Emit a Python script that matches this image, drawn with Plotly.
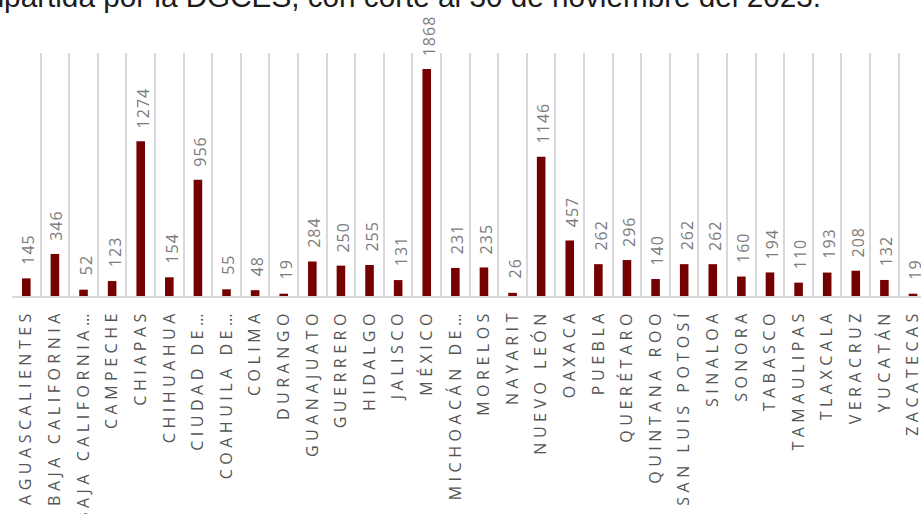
import plotly.graph_objects as go

# Capacitaciones por entidad federativa
estados = [
    "AGUASCALIENTES", "BAJA CALIFORNIA", "BAJA CALIFORNIA…", "CAMPECHE",
    "CHIAPAS", "CHIHUAHUA", "CIUDAD DE…", "COAHUILA DE…", "COLIMA",
    "DURANGO", "GUANAJUATO", "GUERRERO", "HIDALGO", "JALISCO", "MÉXICO",
    "MICHOACÁN DE…", "MORELOS", "NAYARIT", "NUEVO LEÓN", "OAXACA",
    "PUEBLA", "QUERÉTARO", "QUINTANA ROO", "SAN LUIS POTOSÍ", "SINALOA",
    "SONORA", "TABASCO", "TAMAULIPAS", "TLAXCALA", "VERACRUZ", "YUCATÁN",
    "ZACATECAS",
]
totales = [
    145, 346, 52, 123, 1274, 154, 956, 55, 48, 19, 284, 250, 255, 131,
    1868, 231, 235, 26, 1146, 457, 262, 296, 140, 262, 262, 160, 194,
    110, 193, 208, 132, 19,
]
texto_superior = "impartida por la DGCES, con corte al 30 de noviembre del 2023."

W, H = 921, 514
BAR_COLOR = "#740000"
GRID = "#d9d9d9"

fig = go.Figure(
    go.Bar(
        x=estados,
        y=totales,
        width=0.3,
        marker=dict(color=BAR_COLOR, line=dict(width=0)),
        hoverinfo="x+y",
    )
)

# Value labels above each bar, rotated
for est, val in zip(estados, totales):
    fig.add_annotation(
        x=est, y=val, text=str(val), showarrow=False,
        textangle=-90, xanchor="center", yanchor="bottom",
        yshift=13, xshift=2,
        font=dict(family="Open Sans", size=16, color="#7c7c7c"),
    )

fig.update_layout(
    width=W, height=H,
    margin=dict(l=11.7, r=0, t=53, b=218, pad=0),
    paper_bgcolor="white", plot_bgcolor="white",
    showlegend=False,
    bargap=0.7,
    title=dict(
        text=texto_superior,
        font=dict(family="Liberation Sans", size=29.7, color="#1c1c1c"),
        xref="container", x=821 / W, xanchor="right",
        yref="container", y=(H - 6.5) / H, yanchor="bottom",
    ),
    xaxis=dict(
        type="category",
        range=[-0.5, 31.28],
        tickson="boundaries",
        showgrid=True, gridcolor=GRID, gridwidth=1.5,
        showline=True, linecolor=GRID, linewidth=1.5,
        ticks="", tickangle=-90,
        ticklabelstandoff=5,
        tickfont=dict(family="Open Sans", size=16, color="#555555"),
        automargin=False,
    ),
    yaxis=dict(
        range=[0, 2000], visible=False, showgrid=False, zeroline=False,
        automargin=False,
    ),
)

# Wide letter spacing for the category and value labels
post = """
var gd = document.getElementById('{plot_id}');
var st = document.createElement('style');
st.textContent = '.xtick text{letter-spacing:4.5px}' +
                 '.annotation-text{letter-spacing:1px}';
document.head.appendChild(st);
Plotly.relayout(gd, {annotations: JSON.parse(JSON.stringify(gd.layout.annotations))});
"""

fig.write_html("out.html", post_script=post)
